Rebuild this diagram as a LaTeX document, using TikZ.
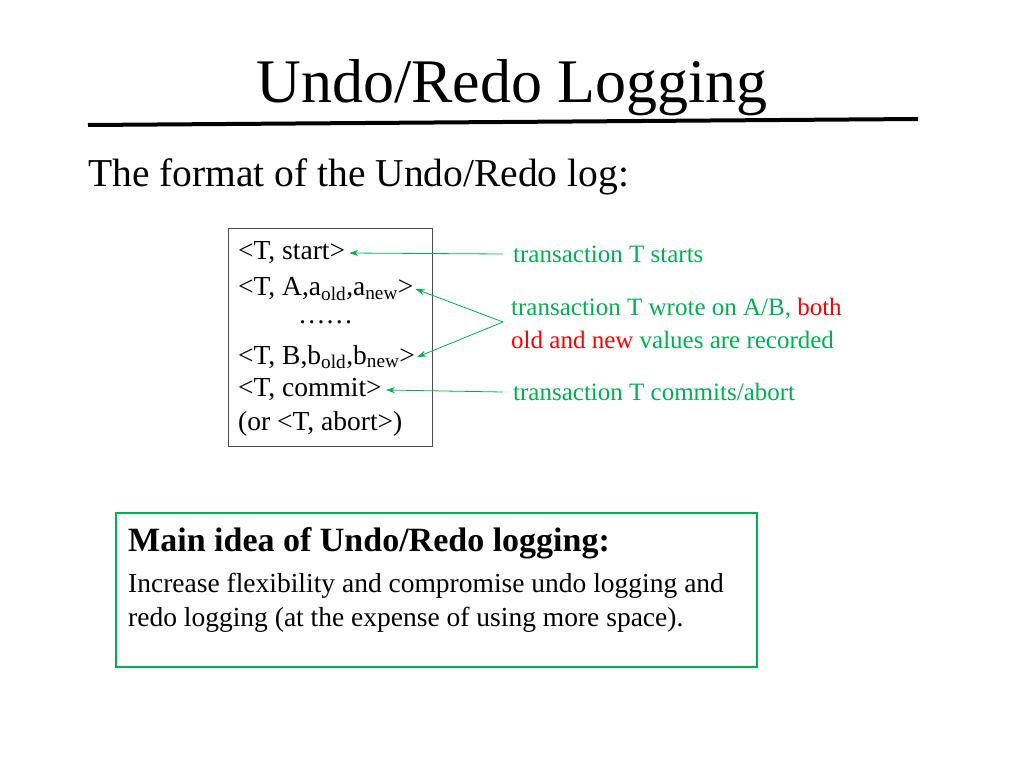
\documentclass[tikz,border=0pt]{standalone}
\usepackage{fontspec}
\setmainfont{Liberation Serif}
\usepackage{xcolor}
\definecolor{loggreen}{RGB}{0,176,80}
\usetikzlibrary{arrows.meta}
\tikzstyle{logline}=[anchor=west,inner sep=0pt,font=\fontsize{27.5}{27.5}\selectfont]
\tikzstyle{note}=[anchor=west,inner sep=0pt,text=loggreen,font=\fontsize{25}{25}\selectfont]
\tikzstyle{pointer}=[draw=loggreen,line width=0.8pt,-{Stealth[length=9pt,width=6pt]}]

\begin{document}
\begin{tikzpicture}[x=1pt,y=-1pt]
	\useasboundingbox (0,0) rectangle (1024,768);
	\node (title) at (512,88) {\fontsize{62}{62}\selectfont Undo/Redo Logging};
	\coordinate (ruleL) at (88,125);
	\coordinate (ruleR) at (918,119);
	\draw[line width=4pt] (ruleL) -- (ruleR);
	\node[anchor=west,inner sep=0pt] (format) at (88,177) {\fontsize{39.5}{39.5}\selectfont The format of the Undo/Redo log:};
	% log records
	\draw[line width=0.6pt,draw=black!70] (228,228) rectangle (432,446);
	\node[logline] (start) at (238,253) {<T, start>};
	\node[logline] (wa) at (238,289) {<T, A,a\textsubscript{old},a\textsubscript{new}>};
	\node[logline] (dots) at (298,322) {……};
	\node[logline] (wb) at (238,357) {<T, B,b\textsubscript{old},b\textsubscript{new}>};
	\node[logline] (commit) at (238,390) {<T, commit>};
	\node[logline] (abort) at (238,424) {(or <T, abort>)};
	% notes
	\node[note] (starts) at (513,254) {transaction T starts};
	\node[note] (wrote) at (511,309) {transaction T wrote on A/B, \textcolor{red}{both}};
	\node[note] (values) at (511,340) {\textcolor{red}{old and new} values are recorded};
	\node[note] (commits) at (513,392) {transaction T commits/abort};
	\coordinate (fork) at (503,322);
	\draw[pointer] ([xshift=-10pt]starts.west) -- ([xshift=4pt]start.east);
	\draw[pointer] (fork) -- ([xshift=2pt]wa.east);
	\draw[pointer] (fork) -- ([xshift=2pt]wb.east);
	\draw[pointer] ([xshift=-10pt]commits.west) -- ([xshift=4pt]commit.east);
	% main idea
	\draw[draw=loggreen,line width=2.5pt] (116,513) rectangle (757,667);
	\node[anchor=west,inner sep=0pt] (idea) at (128,543) {\fontsize{34}{34}\selectfont\bfseries Main idea of Undo/Redo logging:};
	\node[logline] (idea1) at (128,586) {Increase flexibility and compromise undo logging and};
	\node[logline] (idea2) at (128,620) {redo logging (at the expense of using more space).};
\end{tikzpicture}
\end{document}
